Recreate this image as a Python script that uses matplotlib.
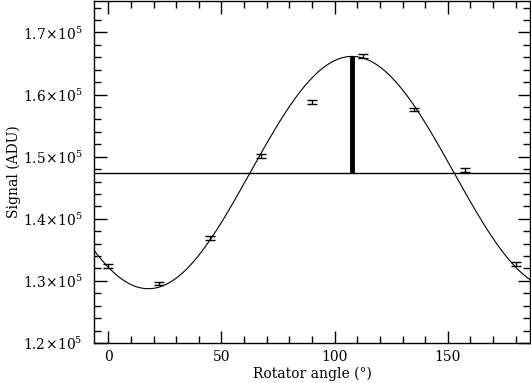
import numpy as np
import matplotlib.pyplot as plt
from matplotlib.ticker import MultipleLocator, FuncFormatter

# measured points
angles = [0, 22.5, 45, 67.5, 90, 112.5, 135, 157.5, 180]
signal = [132430, 129600, 136930, 150060, 158800, 166190, 157570, 147810, 132700]
errors = [300, 300, 300, 300, 300, 300, 300, 300, 300]

# fitted sinusoid (period 180 deg)
fit_mean = 147440
fit_amp = 18700
fit_phase = 107.7

plt.rcParams['font.family'] = ['DejaVu Serif']
plt.rcParams['mathtext.fontset'] = 'dejavuserif'

fig = plt.figure(figsize=(5.31, 3.83), dpi=100)
ax = fig.add_axes([94 / 531, 40 / 383, 436 / 531, 342.5 / 383])

theta = np.linspace(-6.3, 186.3, 400)
model = fit_mean + fit_amp * np.cos(np.radians(2 * (theta - fit_phase)))
ax.plot(theta, model, color='black', lw=0.8)

ax.errorbar(angles, signal, yerr=errors, fmt='none', ecolor='black',
            elinewidth=1.0, capsize=3.5, capthick=1.0)

ax.axhline(fit_mean, color='black', lw=1.0)
ax.plot([fit_phase, fit_phase], [fit_mean, fit_mean + fit_amp],
        color='black', lw=3.5, solid_capstyle='butt')

ax.set_xlim(-6.3, 186.3)
ax.set_ylim(1.2e5, 1.7514e5)

ax.xaxis.set_major_locator(MultipleLocator(50))
ax.xaxis.set_minor_locator(MultipleLocator(10))
ax.yaxis.set_major_locator(MultipleLocator(1e4))
ax.yaxis.set_minor_locator(MultipleLocator(2e3))

def sci(v, pos):
    return r'$%.1f\!\times\!10^{5}$' % (v / 1e5)

ax.yaxis.set_major_formatter(FuncFormatter(sci))

ax.tick_params(which='both', direction='in', top=True, right=True,
               width=1.0, labelsize=10)
ax.tick_params(which='major', length=9)
ax.tick_params(which='minor', length=5)
ax.tick_params(axis='y', pad=8)
ax.tick_params(axis='x', pad=5)

for s in ax.spines.values():
    s.set_linewidth(1.0)

ax.set_xlabel('Rotator angle (°)', fontsize=10, labelpad=2)
ax.set_ylabel('Signal (ADU)', fontsize=10)
ax.yaxis.set_label_coords(-0.168, 0.5)

fig.savefig('out.png', dpi=100)
